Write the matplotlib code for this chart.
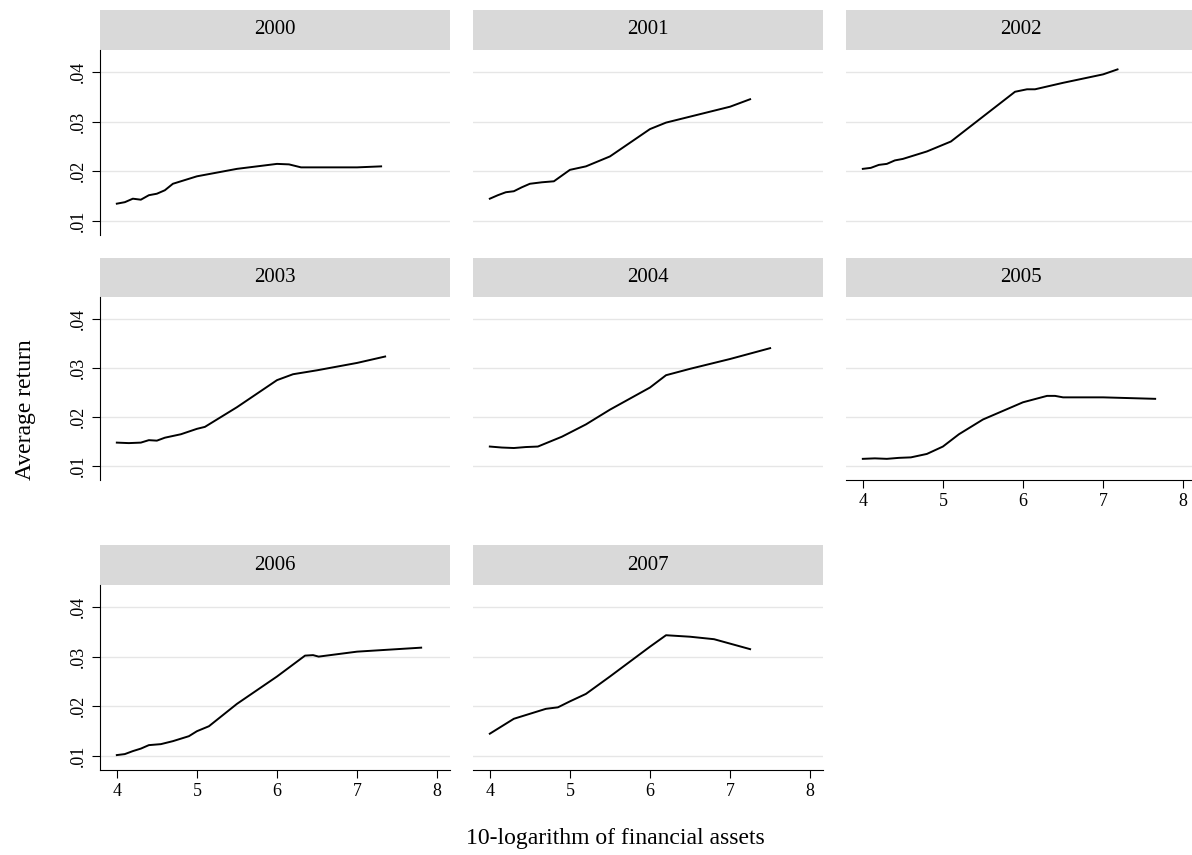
import matplotlib.pyplot as plt

plt.rcParams['font.family'] = ['Liberation Serif', 'DejaVu Serif']

years = ['2000', '2001', '2002', '2003', '2004', '2005', '2006', '2007']

x_vals = {
    '2000': [4.0, 4.1, 4.2, 4.3, 4.4, 4.5, 4.6, 4.7, 5.0, 5.5, 6.0, 6.15, 6.3, 7.0, 7.3],
    '2001': [4.0, 4.1, 4.2, 4.3, 4.4, 4.5, 4.65, 4.8, 5.0, 5.2, 5.5, 6.0, 6.2, 6.5, 7.0, 7.25],
    '2002': [4.0, 4.1, 4.2, 4.3, 4.4, 4.5, 4.8, 5.1, 5.5, 5.9, 6.05, 6.15, 6.5, 7.0, 7.18],
    '2003': [4.0, 4.15, 4.3, 4.4, 4.5, 4.6, 4.8, 5.0, 5.1, 5.5, 6.0, 6.2, 6.5, 7.0, 7.35],
    '2004': [4.0, 4.15, 4.3, 4.45, 4.6, 4.9, 5.2, 5.5, 6.0, 6.2, 6.5, 7.0, 7.5],
    '2005': [4.0, 4.15, 4.3, 4.45, 4.6, 4.8, 5.0, 5.2, 5.5, 6.0, 6.3, 6.4, 6.5, 7.0, 7.65],
    '2006': [4.0, 4.1, 4.2, 4.3, 4.4, 4.55, 4.7, 4.9, 5.0, 5.15, 5.5, 6.0, 6.35, 6.45, 6.52, 7.0, 7.8],
    '2007': [4.0, 4.15, 4.3, 4.5, 4.7, 4.85, 5.0, 5.2, 5.5, 6.0, 6.2, 6.5, 6.8, 7.25],
}
y_vals = {
    '2000': [.0135, .0138, .0145, .0143, .0152, .0155, .0162, .0175, .019, .0205, .0215, .0214, .0208, .0208, .021],
    '2001': [.0145, .0152, .0158, .016, .0168, .0175, .0178, .018, .0203, .021, .023, .0285, .0298, .031, .033, .0345],
    '2002': [.0205, .0207, .0213, .0215, .0222, .0225, .024, .026, .031, .036, .0365, .0365, .0378, .0395, .0405],
    '2003': [.0148, .0147, .0148, .0153, .0152, .0158, .0165, .0176, .018, .022, .0275, .0287, .0295, .031, .0323],
    '2004': [.014, .0138, .0137, .0139, .014, .016, .0185, .0215, .026, .0285, .0298, .0318, .034],
    '2005': [.0115, .0116, .0115, .0117, .0118, .0125, .014, .0165, .0195, .023, .0243, .0243, .024, .024, .0237],
    '2006': [.0102, .0104, .011, .0115, .0122, .0124, .013, .014, .015, .016, .0205, .026, .0302, .0303, .030, .031, .0318],
    '2007': [.0145, .016, .0175, .0185, .0195, .0198, .021, .0225, .026, .032, .0343, .034, .0335, .0315],
}

W, H = 1192, 855
fig = plt.figure(figsize=(W / 100, H / 100), dpi=100)

col_x = [100, 473, 846]
col_w = 350
rows = [(10, 50, 235), (258, 297, 480), (545, 585, 770)]
strip_color = '#d9d9d9'

for i, yr in enumerate(years):
    r, c = divmod(i, 3)
    st, top, bot = rows[r]
    x0 = col_x[c]
    sax = fig.add_axes([x0 / W, 1 - top / H, col_w / W, (top - st) / H])
    sax.set_facecolor(strip_color)
    sax.set_xticks([]); sax.set_yticks([])
    for s in sax.spines.values():
        s.set_visible(False)
    sax.text(0.5, 0.5, yr, ha='center', va='center', fontsize=15, transform=sax.transAxes)

    ax = fig.add_axes([x0 / W, 1 - bot / H, col_w / W, (bot - top) / H])
    ax.plot(x_vals[yr], y_vals[yr], color='black', lw=1.4)
    ax.set_xlim(3.79, 8.16)
    ax.set_ylim(0.0072, 0.0444)
    ax.set_yticks([.01, .02, .03, .04])
    ax.set_xticks([4, 5, 6, 7, 8])
    ax.grid(axis='y', color='#e6e6e6', lw=1)
    ax.set_axisbelow(True)
    for s in ['top', 'right']:
        ax.spines[s].set_visible(False)
    show_x = (r == 2) or (r == 1 and c == 2)
    show_y = c == 0
    ax.spines['bottom'].set_visible(show_x)
    ax.spines['left'].set_visible(show_y)
    ax.tick_params(axis='x', bottom=show_x, labelbottom=show_x, labelsize=13, length=6)
    ax.tick_params(axis='y', left=show_y, labelleft=show_y, labelsize=13, length=6)
    if show_y:
        ax.set_yticklabels(['.01', '.02', '.03', '.04'], rotation=90, va='center')

fig.text(25 / W, 1 - 410 / H, 'Average return', rotation=90, ha='center', va='center', fontsize=17)
fig.text(615 / W, 1 - 838 / H, '10-logarithm of financial assets', ha='center', va='center', fontsize=17)

fig.savefig('out.png', dpi=100)
